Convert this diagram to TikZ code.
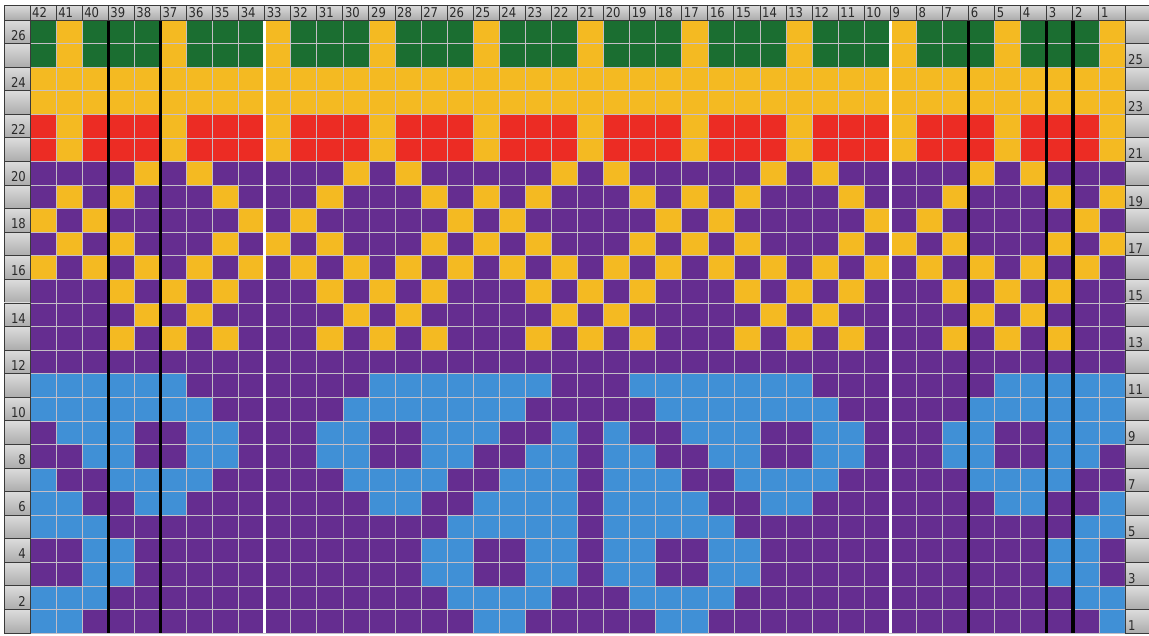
\documentclass[tikz,border=0pt]{standalone}
\usepackage{fontspec}
\setmainfont{DejaVu Sans}[FakeStretch=0.86]
\usetikzlibrary{calc}
\definecolor{cg}{HTML}{1B6E31}
\definecolor{cy}{HTML}{F4BA22}
\definecolor{cr}{HTML}{EC2C24}
\definecolor{cp}{HTML}{652D90}
\definecolor{cb}{HTML}{4090D6}
\definecolor{gridgrey}{HTML}{C4BEC6}
\definecolor{boxedge}{HTML}{3A3A3A}
\definecolor{boxtop}{HTML}{DCDCDC}
\definecolor{boxbot}{HTML}{ACACAC}
\definecolor{numgrey}{HTML}{2A2A2A}
\newcommand{\cw}{26.071}
\newcommand{\rh}{23.58}

\begin{document}
\begin{tikzpicture}[x=1pt, y=-1pt,
  cell/.style={fill=c#1},
  gridline/.style={draw=gridgrey, line width=0.7pt},
  numbox/.style={draw=boxedge, line width=0.9pt, top color=boxtop, bottom color=boxbot},
  numtext/.style={inner sep=0pt, text=numgrey, font=\fontsize{13.5}{14}\selectfont},
  splitline/.style={line width=3.4pt}]
  \useasboundingbox[fill=white] (0,0) rectangle (1149,635);
  \foreach \cells [count=\r] in {
    {g,y,g,g,g,y,g,g,g,y,g,g,g,y,g,g,g,y,g,g,g,y,g,g,g,y,g,g,g,y,g,g,g,y,g,g,g,y,g,g,g,y},
    {g,y,g,g,g,y,g,g,g,y,g,g,g,y,g,g,g,y,g,g,g,y,g,g,g,y,g,g,g,y,g,g,g,y,g,g,g,y,g,g,g,y},
    {y,y,y,y,y,y,y,y,y,y,y,y,y,y,y,y,y,y,y,y,y,y,y,y,y,y,y,y,y,y,y,y,y,y,y,y,y,y,y,y,y,y},
    {y,y,y,y,y,y,y,y,y,y,y,y,y,y,y,y,y,y,y,y,y,y,y,y,y,y,y,y,y,y,y,y,y,y,y,y,y,y,y,y,y,y},
    {r,y,r,r,r,y,r,r,r,y,r,r,r,y,r,r,r,y,r,r,r,y,r,r,r,y,r,r,r,y,r,r,r,y,r,r,r,y,r,r,r,y},
    {r,y,r,r,r,y,r,r,r,y,r,r,r,y,r,r,r,y,r,r,r,y,r,r,r,y,r,r,r,y,r,r,r,y,r,r,r,y,r,r,r,y},
    {p,p,p,p,y,p,y,p,p,p,p,p,y,p,y,p,p,p,p,p,y,p,y,p,p,p,p,p,y,p,y,p,p,p,p,p,y,p,y,p,p,p},
    {p,y,p,y,p,p,p,y,p,p,p,y,p,p,p,y,p,y,p,y,p,p,p,y,p,y,p,y,p,p,p,y,p,p,p,y,p,p,p,y,p,y},
    {y,p,y,p,p,p,p,p,y,p,y,p,p,p,p,p,y,p,y,p,p,p,p,p,y,p,y,p,p,p,p,p,y,p,y,p,p,p,p,p,y,p},
    {p,y,p,y,p,p,p,y,p,y,p,y,p,p,p,y,p,y,p,y,p,p,p,y,p,y,p,y,p,p,p,y,p,y,p,y,p,p,p,y,p,y},
    {y,p,y,p,y,p,y,p,y,p,y,p,y,p,y,p,y,p,y,p,y,p,y,p,y,p,y,p,y,p,y,p,y,p,y,p,y,p,y,p,y,p},
    {p,p,p,y,p,y,p,y,p,p,p,y,p,y,p,y,p,p,p,y,p,y,p,y,p,p,p,y,p,y,p,y,p,p,p,y,p,y,p,y,p,p},
    {p,p,p,p,y,p,y,p,p,p,p,p,y,p,y,p,p,p,p,p,y,p,y,p,p,p,p,p,y,p,y,p,p,p,p,p,y,p,y,p,p,p},
    {p,p,p,y,p,y,p,y,p,p,p,y,p,y,p,y,p,p,p,y,p,y,p,y,p,p,p,y,p,y,p,y,p,p,p,y,p,y,p,y,p,p},
    {p,p,p,p,p,p,p,p,p,p,p,p,p,p,p,p,p,p,p,p,p,p,p,p,p,p,p,p,p,p,p,p,p,p,p,p,p,p,p,p,p,p},
    {b,b,b,b,b,b,p,p,p,p,p,p,p,b,b,b,b,b,b,b,p,p,p,b,b,b,b,b,b,b,p,p,p,p,p,p,p,b,b,b,b,b},
    {b,b,b,b,b,b,b,p,p,p,p,p,b,b,b,b,b,b,b,p,p,p,p,p,b,b,b,b,b,b,b,p,p,p,p,p,b,b,b,b,b,b},
    {p,b,b,b,p,p,b,b,p,p,p,b,b,p,p,b,b,b,p,p,b,p,b,p,p,b,b,b,p,p,b,b,p,p,p,b,b,p,p,b,b,b},
    {p,p,b,b,p,p,b,b,p,p,p,b,b,p,p,b,b,p,p,b,b,p,b,b,p,p,b,b,p,p,b,b,p,p,p,b,b,p,p,b,b,p},
    {b,p,p,b,b,b,b,p,p,p,p,p,b,b,b,b,p,p,b,b,b,p,b,b,b,p,p,b,b,b,b,p,p,p,p,p,b,b,b,b,p,p},
    {b,b,p,p,b,b,p,p,p,p,p,p,p,b,b,p,p,b,b,b,b,p,b,b,b,b,p,p,b,b,p,p,p,p,p,p,p,b,b,p,p,b},
    {b,b,b,p,p,p,p,p,p,p,p,p,p,p,p,p,b,b,b,b,b,p,b,b,b,b,b,p,p,p,p,p,p,p,p,p,p,p,p,p,b,b},
    {p,p,b,b,p,p,p,p,p,p,p,p,p,p,p,b,b,p,p,b,b,p,b,b,p,p,b,b,p,p,p,p,p,p,p,p,p,p,p,b,b,p},
    {p,p,b,b,p,p,p,p,p,p,p,p,p,p,p,b,b,p,p,b,b,p,b,b,p,p,b,b,p,p,p,p,p,p,p,p,p,p,p,b,b,p},
    {b,b,b,p,p,p,p,p,p,p,p,p,p,p,p,p,b,b,b,b,p,p,p,b,b,b,b,p,p,p,p,p,p,p,p,p,p,p,p,p,b,b},
    {b,b,p,p,p,p,p,p,p,p,p,p,p,p,p,p,p,b,b,p,p,p,p,p,b,b,p,p,p,p,p,p,p,p,p,p,p,p,p,p,p,b}}
    \foreach \c [count=\i] in \cells
      \fill[cell=\c] ({30+(\i-1)*\cw},{20+(\r-1)*\rh}) rectangle ++(\cw,\rh);
  \foreach \i in {0,...,42}
    \draw[gridline] ({30+\i*\cw},20) -- ++(0,{26*\rh});
  \foreach \r in {0,...,26}
    \draw[gridline] (30,{20+\r*\rh}) -- ++({42*\cw},0);
  \foreach \k in {3,5,36,39,40}
    \draw[splitline, black] ({30+\k*\cw},20) -- ++(0,{26*\rh});
  \foreach \k in {9,33}
    \draw[splitline, white] ({30+\k*\cw},20) -- ++(0,{26*\rh});
  \draw[numbox] (4,5) rectangle (30,20);
  \draw[numbox] ({30+42*\cw},5) rectangle (1152,20);
  \foreach \c [count=\i] in {42,41,...,1} {
    \draw[numbox] ({30+(\i-1)*\cw},5) rectangle ++(\cw,15);
    \node[numtext, anchor=base west] (col\c) at ({32+(\i-1)*\cw},17.5) {\c};
  }
  \foreach \r in {1,...,26} {
    \draw[numbox] (4,{20+(\r-1)*\rh}) rectangle (30,{20+\r*\rh});
    \draw[numbox] ({30+42*\cw},{20+(\r-1)*\rh}) rectangle (1152,{20+\r*\rh});
  }
  \foreach \n in {26,24,...,2}
    \node[numtext, anchor=base east] (rowl\n) at (26,{20+(27-\n)*\rh-3.5}) {\n};
  \foreach \n in {25,23,...,1}
    \node[numtext, anchor=base west] (rowr\n) at ({33+42*\cw},{20+(27-\n)*\rh-2.5}) {\n};
\end{tikzpicture}
\end{document}
